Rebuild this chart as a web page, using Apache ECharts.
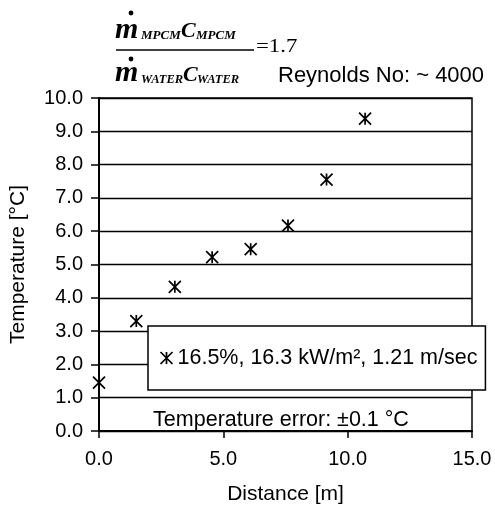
<!DOCTYPE html>
<html>
<head>
<meta charset="utf-8">
<script src="https://cdn.jsdelivr.net/npm/echarts@6/dist/echarts.min.js"></script>
<style>html,body{margin:0;padding:0;background:#fff}#c{width:495px;height:510px}</style>
</head>
<body>
<div id="c"></div>
<script>
// Data
const distance = [0.0, 1.5, 3.05, 4.55, 6.1, 7.6, 9.15, 10.7];
const temperature = [1.45, 3.3, 4.33, 5.22, 5.46, 6.17, 7.55, 9.38];
const seriesName = '16.5%, 16.3 kW/m\u00b2, 1.21 m/sec';
const xTicks = [0, 5, 10, 15];
const yTicks = [0, 1, 2, 3, 4, 5, 6, 7, 8, 9, 10];
const errorNote = 'Temperature error: \u00b10.1 \u00b0C';
const reynoldsNote = 'Reynolds No: ~ 4000';
const ratioValue = '=1.7';

const SANS = '"Liberation Sans", Arial, Helvetica, sans-serif';
const SERIF = '"Liberation Serif", "Times New Roman", serif';
const star = 'path://M0,0L12,12M12,0L0,12M6,0L6,12';

const chart = echarts.init(document.getElementById('c'), null, {renderer: 'canvas'});

function t(text, x, y, fs, opts) {
  opts = opts || {};
  return {
    type: 'text', x: x, y: y, scaleX: opts.scaleX || 1, z: 10,
    style: {
      text: text, x: 0, y: 0,
      fontFamily: opts.family || SERIF,
      fontSize: fs,
      fontWeight: opts.weight || 'normal',
      fontStyle: opts.style || 'normal',
      fill: '#000',
      textAlign: opts.align || 'left',
      textVerticalAlign: 'middle'
    }
  };
}
const bi = {weight: 'bold', style: 'italic'};

const option = {
  animation: false,
  backgroundColor: '#fff',
  grid: {left: 99, right: 23, top: 98, bottom: 73, show: true, borderColor: '#000', borderWidth: 1.5, backgroundColor: 'transparent'},
  xAxis: {
    type: 'value', min: xTicks[0], max: xTicks[xTicks.length - 1], interval: 5,
    name: 'Distance [m]', nameLocation: 'middle', nameGap: 53,
    nameTextStyle: {fontFamily: SANS, fontSize: 21, color: '#000'},
    axisLine: {show: true, lineStyle: {color: '#000', width: 2}},
    axisTick: {show: true, inside: false, length: 7, lineStyle: {color: '#000', width: 1.5}},
    axisLabel: {fontFamily: SANS, fontSize: 20, color: '#000', margin: 18, formatter: v => v.toFixed(1)},
    splitLine: {show: false}
  },
  yAxis: {
    type: 'value', min: yTicks[0], max: yTicks[yTicks.length - 1], interval: 1,
    name: 'Temperature [\u00b0C]', nameLocation: 'middle', nameGap: 70,
    nameTextStyle: {fontFamily: SANS, fontSize: 21, color: '#000'},
    axisLine: {show: true, lineStyle: {color: '#000', width: 2}},
    axisTick: {show: true, inside: false, length: 8, lineStyle: {color: '#000', width: 1.5}},
    axisLabel: {fontFamily: SANS, fontSize: 20, color: '#000', margin: 16, formatter: v => v.toFixed(1)},
    splitLine: {show: true, lineStyle: {color: '#000', width: 1.3}}
  },
  legend: {
    show: true, left: 148, top: 326, orient: 'horizontal',
    backgroundColor: '#fff', borderColor: '#000', borderWidth: 1.5,
    padding: [21, 8, 21, 10],
    itemWidth: 12, itemHeight: 12,
    icon: star,
    itemStyle: {color: 'none', borderColor: '#000', borderWidth: 1.7},
    textStyle: {fontFamily: SANS, fontSize: 21.5, color: '#000'},
    data: [seriesName]
  },
  series: [{
    name: seriesName, type: 'scatter',
    symbol: star, symbolSize: 12,
    itemStyle: {color: 'none', borderColor: '#000', borderWidth: 1.7, opacity: 1},
    data: distance.map((d, i) => [d, temperature[i]])
  }],
  graphic: [
    t(errorNote, 281, 420, 21.5, {family: SANS, align: 'center'}),
    t(reynoldsNote, 278, 76, 22, {family: SANS}),
    // formula: numerator
    {type: 'circle', shape: {cx: 131, cy: 13, r: 2.4}, style: {fill: '#000'}, z: 10},
    t('m', 115, 30, 30, bi),
    t('MPCM', 141, 36, 13, bi),
    t('C', 181, 31, 22, bi),
    t('MPCM', 196, 36, 13, bi),
    {type: 'line', shape: {x1: 116, y1: 50, x2: 254, y2: 50}, style: {stroke: '#000', lineWidth: 1.4}, z: 10},
    t(ratioValue, 256, 47, 19, {scaleX: 1.2}),
    // formula: denominator
    {type: 'circle', shape: {cx: 131, cy: 59, r: 2.4}, style: {fill: '#000'}, z: 10},
    t('m', 115, 73, 30, bi),
    t('WATER', 141, 79.5, 12.5, bi),
    t('C', 183, 75, 22, bi),
    t('WATER', 197, 79.5, 12.5, bi)
  ]
};
chart.setOption(option);
</script>
</body>
</html>
